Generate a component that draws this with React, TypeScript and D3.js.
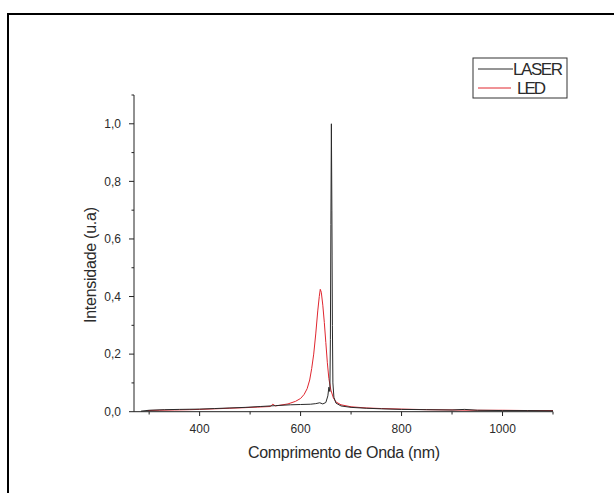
import React from "react";
import * as d3 from "d3";

// DATA
const ledWavelength = [296, 320, 350, 380, 400, 430, 460, 490, 515, 540, 545, 550, 575, 590, 600, 607, 613, 618, 622, 626, 630, 634, 637, 639, 641, 644, 647, 650, 653, 656, 660, 665, 670, 680, 700, 730, 760, 800, 850, 900, 950, 1000, 1050, 1100];
const ledIntensity = [0.004, 0.005, 0.006, 0.007, 0.008, 0.01, 0.012, 0.014, 0.016, 0.018, 0.026, 0.02, 0.027, 0.036, 0.046, 0.06, 0.08, 0.11, 0.15, 0.2, 0.27, 0.35, 0.4, 0.425, 0.415, 0.37, 0.31, 0.24, 0.17, 0.115, 0.075, 0.048, 0.034, 0.024, 0.017, 0.013, 0.011, 0.009, 0.007, 0.006, 0.005, 0.005, 0.004, 0.004];

const laserWavelength = [284, 300, 330, 360, 400, 430, 460, 490, 520, 550, 580, 600, 620, 630, 638, 644, 650, 654, 656, 658, 659, 660, 661, 662, 663, 664, 666, 670, 680, 700, 730, 760, 800, 850, 900, 925, 950, 1000, 1050, 1100];
const laserIntensity = [0.002, 0.005, 0.007, 0.008, 0.009, 0.011, 0.013, 0.015, 0.018, 0.021, 0.024, 0.025, 0.026, 0.028, 0.031, 0.027, 0.032, 0.055, 0.085, 0.07, 0.25, 0.65, 1.0, 0.7, 0.3, 0.1, 0.05, 0.03, 0.02, 0.015, 0.012, 0.01, 0.008, 0.007, 0.006, 0.008, 0.005, 0.004, 0.004, 0.003];

const xMajorTicks = [400, 600, 800, 1000];
const xMinorTicks = [300, 500, 700, 900, 1100];
const yMajorTicks = [0, 0.2, 0.4, 0.6, 0.8, 1.0];
const yMinorTicks = [0.1, 0.3, 0.5, 0.7, 0.9, 1.1];

const seriesNames = ["LASER", "LED"];
const seriesColors = ["#2a2a2a", "#e0262f"];

export default function App() {
  const x = d3.scaleLinear().domain([270, 1100]).range([134, 553]);
  const y = d3.scaleLinear().domain([0, 1.1]).range([411.7, 95]);

  const line = d3
    .line<[number, number]>()
    .x((d) => x(d[0]))
    .y((d) => y(d[1]));

  const laser = laserWavelength.map((w, i) => [w, laserIntensity[i]] as [number, number]);
  const led = ledWavelength.map((w, i) => [w, ledIntensity[i]] as [number, number]);

  const fmt = (v: number) => v.toFixed(1).replace(".", ",");
  const font = "'Liberation Sans', Arial, sans-serif";
  const textColor = "#2b2b2b";

  return (
    <svg
      width={614}
      height={493}
      style={{ position: "absolute", left: 0, top: 0, background: "#fff", overflow: "hidden" }}
      fontFamily={font}
    >
      {/* OUTER FRAME (left and top edges only visible) */}
      <line x1={8} x2={8} y1={13} y2={493} stroke="#000" strokeWidth={2} />
      <line x1={7} x2={614} y1={14} y2={14} stroke="#000" strokeWidth={2} />

      {/* LINES */}
      <path d={line(led) || ""} fill="none" stroke={seriesColors[1]} strokeWidth={1} />
      <path d={line(laser) || ""} fill="none" stroke={seriesColors[0]} strokeWidth={1} />

      {/* Y AXIS */}
      <line x1={134} x2={134} y1={y(1.1)} y2={y(0)} stroke="#222" strokeWidth={1} />
      {yMajorTicks.map((t) => (
        <g key={"ym" + t}>
          <line x1={129} x2={134} y1={y(t)} y2={y(t)} stroke="#222" />
          <text x={121} y={y(t) + 4.3} textAnchor="end" fontSize={12} fill={textColor}>
            {fmt(t)}
          </text>
        </g>
      ))}
      {yMinorTicks.map((t) => (
        <line key={"yn" + t} x1={131.5} x2={134} y1={y(t)} y2={y(t)} stroke="#222" />
      ))}

      {/* X AXIS */}
      <line x1={134} x2={553} y1={411.7} y2={411.7} stroke="#222" strokeWidth={1} />
      {xMajorTicks.map((t) => (
        <g key={"xm" + t}>
          <line x1={x(t)} x2={x(t)} y1={411.7} y2={416} stroke="#222" />
          <text x={x(t)} y={432.5} textAnchor="middle" fontSize={12} fill={textColor}>
            {t}
          </text>
        </g>
      ))}
      {xMinorTicks.map((t) => (
        <line key={"xn" + t} x1={x(t)} x2={x(t)} y1={411.7} y2={414.5} stroke="#222" />
      ))}

      {/* AXIS TITLES */}
      <text x={344} y={457.5} textAnchor="middle" fontSize={16} fill={textColor} textLength={192}>
        Comprimento de Onda (nm)
      </text>
      <text
        transform="translate(96,265) rotate(-90)"
        textAnchor="middle"
        fontSize={16}
        fill={textColor}
        textLength={116}
      >
        Intensidade (u.a)
      </text>

      {/* LEGEND */}
      <rect x={473} y={58} width={94} height={40} fill="#fff" stroke="#333" strokeWidth={1} />
      <line x1={478} x2={513} y1={69} y2={69} stroke={seriesColors[0]} />
      <text x={513} y={75} fontSize={17} fill={textColor} textLength={50}>
        {seriesNames[0]}
      </text>
      <line x1={478} x2={511} y1={88} y2={88} stroke={seriesColors[1]} />
      <text x={517} y={94} fontSize={17} fill={textColor} textLength={29}>
        {seriesNames[1]}
      </text>
    </svg>
  );
}
